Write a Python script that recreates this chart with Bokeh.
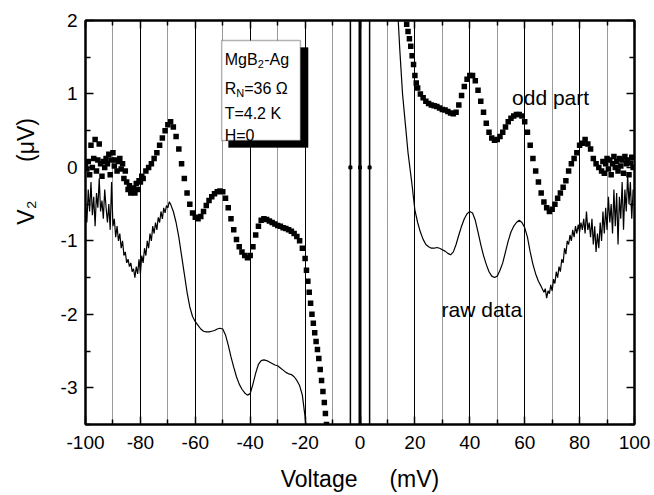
import math
from bokeh.plotting import figure
from bokeh.models import Range1d, LinearAxis, FixedTicker, Grid, Label, BoxAnnotation, ColumnDataSource
from bokeh.embed import file_html
from bokeh.resources import INLINE

# ---------------- data ----------------
odd_left_x = [-100, -99.5, -99, -98.5, -98, -97.5, -97, -96.5, -96, -95.5, -95, -94.5, -94, -93.5, -93,
              -92.5, -92, -91.5, -91, -90.5, -90, -89.5, -89, -88.5, -88, -87.5, -87, -86.5, -86, -85.5,
              -85, -84.5, -84, -83.5, -83, -82.5, -82, -81.5, -81, -80.5, -80, -79.5, -79, -78, -77, -76,
              -75, -74, -73, -72, -71, -70, -69, -68, -67, -66, -65, -64, -63, -62, -61, -60, -59, -58,
              -57, -56, -55, -54, -53, -52, -51, -50, -49, -48, -47, -46, -45, -44, -43, -42, -41, -40,
              -39, -38, -37, -36, -35, -34, -33, -32, -31, -30, -29, -28, -27, -26, -25, -24, -23, -22,
              -21, -20, -19.5, -19, -18.5, -18, -17.5, -17, -16.5, -16, -15.5, -15, -14.5, -14, -13.5,
              -13, -12.6, -12.2]
odd_left_y = [0.05, -0.02, 0.08, -0.1, 0.3, 0.0, 0.12, 0.38, -0.05, 0.1, 0.32, 0.05, -0.12, 0.08, 0.0,
              0.12, 0.05, 0.18, -0.1, 0.1, 0.2, 0.02, 0.1, -0.05, 0.08, 0.12, -0.02, 0.05, -0.15, -0.05,
              -0.2, -0.3, -0.25, -0.35, -0.3, -0.28, -0.35, -0.22, -0.3, -0.18, -0.2, -0.12, -0.15, -0.05,
              0.0, 0.05, 0.12, 0.2, 0.3, 0.4, 0.5, 0.58, 0.62, 0.55, 0.42, 0.25, 0.05, -0.15, -0.35, -0.5,
              -0.62, -0.68, -0.7, -0.67, -0.6, -0.52, -0.45, -0.4, -0.36, -0.33, -0.32, -0.33, -0.42,
              -0.55, -0.7, -0.85, -0.98, -1.08, -1.15, -1.2, -1.23, -1.2, -1.08, -0.92, -0.8, -0.72, -0.7,
              -0.71, -0.73, -0.75, -0.77, -0.79, -0.8, -0.82, -0.83, -0.85, -0.87, -0.9, -0.94, -1.0,
              -1.1, -1.24, -1.4, -1.55, -1.7, -1.85, -2.0, -2.12, -2.25, -2.37, -2.48, -2.6, -2.75, -2.9,
              -3.05, -3.2, -3.35, -3.5]

odd_right_x = [16.5, 17, 17.5, 18, 18.5, 19, 19.5, 20, 20.5, 21, 22, 23, 24, 25, 26, 27, 28, 29, 30, 31,
               32, 33, 34, 35, 36, 37, 38, 39, 40, 41, 42, 43, 44, 45, 46, 47, 48, 49, 50, 51, 52, 53, 54,
               55, 56, 57, 58, 59, 60, 61, 62, 63, 64, 65, 66, 67, 68, 69, 70, 71, 72, 73, 74, 75, 76, 77,
               78, 79, 80, 81, 82, 83, 84, 85, 86, 87, 88, 88.5, 89, 89.5, 90, 90.5, 91, 91.5, 92, 92.5,
               93, 93.5, 94, 94.5, 95, 95.5, 96, 96.5, 97, 97.5, 98, 98.5, 99, 99.5]
odd_right_y = [2.1, 1.95, 1.85, 1.75, 1.65, 1.52, 1.4, 1.25, 1.15, 1.08, 1.0, 0.95, 0.9, 0.87, 0.85, 0.84,
               0.83, 0.81, 0.79, 0.78, 0.76, 0.74, 0.73, 0.75, 0.85, 0.98, 1.1, 1.2, 1.25, 1.25, 1.18,
               1.05, 0.9, 0.75, 0.6, 0.48, 0.4, 0.37, 0.38, 0.42, 0.48, 0.55, 0.62, 0.67, 0.7, 0.72, 0.72,
               0.7, 0.62, 0.48, 0.3, 0.12, -0.05, -0.2, -0.35, -0.47, -0.55, -0.6, -0.57, -0.5, -0.42,
               -0.35, -0.27, -0.18, -0.05, 0.05, 0.12, 0.2, 0.3, 0.33, 0.38, 0.32, 0.25, 0.12, 0.05, 0.0,
               -0.05, 0.08, -0.08, 0.05, 0.12, -0.02, 0.1, -0.1, 0.05, 0.15, 0.0, 0.08, -0.05, 0.12, 0.02,
               0.1, -0.08, 0.15, 0.05, 0.1, -0.1, 0.06, 0.14, 0.0]

raw_left_x = [-100, -99.5, -99, -98.5, -98, -97.5, -97, -96.5, -96, -95.5, -95, -94.5, -94, -93.5, -93,
              -92.5, -92, -91.5, -91, -90.5, -90, -89.5, -89, -88.5, -88, -87.5, -87, -86.5, -86, -85.5,
              -85, -84.5, -84, -83.5, -83, -82.5, -82, -81.5, -81, -80.5, -80, -79.5, -79, -78.5, -78,
              -77.5, -77, -76.5, -76, -75.5, -75, -74.5, -74, -73.5, -73, -72.5, -72, -71.5, -71, -70.5,
              -70, -69.5, -69, -68, -67, -66, -65, -64, -63, -62, -61, -60, -59, -58, -57, -56, -55, -54,
              -53, -52, -51, -50, -49, -48, -47, -46, -45, -44, -43, -42, -41, -40, -39, -38, -37, -36,
              -35, -34, -33, -32, -31, -30, -29, -28, -27, -26, -25, -24, -23, -22, -21, -20.5, -20, -19.6]
raw_left_y = [-0.5, -0.75, -0.3, -0.6, -0.2, -0.65, -0.4, -0.8, -0.35, -0.55, -0.15, -0.6, -0.45, -0.7,
              -0.3, -0.55, -0.75, -0.5, -0.85, -0.2, -0.8, -0.7, -0.95, -0.8, -1.0, -0.9, -1.1, -1.0, -1.2,
              -1.15, -1.3, -1.25, -1.35, -1.3, -1.42, -1.38, -1.5, -1.35, -1.45, -1.25, -1.45, -1.2, -1.3,
              -1.1, -1.2, -1.0, -1.1, -0.9, -1.0, -0.8, -0.9, -0.75, -0.85, -0.68, -0.75, -0.6, -0.7,
              -0.55, -0.62, -0.52, -0.55, -0.47, -0.5, -0.6, -0.75, -0.95, -1.2, -1.45, -1.7, -1.9, -2.03,
              -2.1, -2.15, -2.2, -2.23, -2.24, -2.24, -2.23, -2.22, -2.2, -2.19, -2.2, -2.28, -2.42, -2.58,
              -2.72, -2.85, -2.95, -3.02, -3.07, -3.1, -3.08, -2.95, -2.8, -2.68, -2.63, -2.62, -2.63,
              -2.65, -2.67, -2.69, -2.7, -2.73, -2.76, -2.79, -2.81, -2.82, -2.85, -2.9, -2.97, -3.1,
              -3.25, -3.4, -3.55]

raw_right_x = [13.8, 14, 14.5, 15, 15.5, 16, 16.5, 17, 17.5, 18, 18.5, 19, 19.5, 20, 21, 22, 23, 24, 25,
               26, 27, 28, 29, 30, 31, 32, 33, 34, 35, 36, 37, 38, 39, 40, 41, 42, 43, 44, 45, 46, 47, 48,
               49, 50, 51, 52, 53, 54, 55, 56, 57, 58, 59, 60, 61, 62, 63, 64, 65, 66, 67, 67.5, 68, 68.5,
               69, 69.5, 70, 70.5, 71, 71.5, 72, 72.5, 73, 73.5, 74, 74.5, 75, 75.5, 76, 76.5, 77, 77.5,
               78, 78.5, 79, 79.5, 80, 80.5, 81, 81.5, 82, 82.5, 83, 83.5, 84, 84.5, 85, 85.5, 86, 86.5,
               87, 87.5, 88, 88.5, 89, 89.5, 90, 90.5, 91, 91.5, 92, 92.5, 93, 93.5, 94, 94.5, 95, 95.5,
               96, 96.5, 97, 97.5, 98, 98.5, 99, 99.5]
raw_right_y = [2.05, 1.95, 1.6, 1.3, 1.0, 0.8, 0.6, 0.4, 0.2, 0.05, -0.1, -0.25, -0.42, -0.58, -0.75,
               -0.88, -0.98, -1.05, -1.08, -1.1, -1.1, -1.09, -1.1, -1.12, -1.14, -1.17, -1.19, -1.15,
               -1.05, -0.92, -0.8, -0.7, -0.63, -0.6, -0.62, -0.72, -0.88, -1.05, -1.2, -1.32, -1.42,
               -1.48, -1.5, -1.48, -1.4, -1.3, -1.15, -1.0, -0.88, -0.8, -0.75, -0.72, -0.75, -0.82,
               -0.95, -1.15, -1.32, -1.45, -1.55, -1.62, -1.7, -1.65, -1.78, -1.68, -1.72, -1.6, -1.68,
               -1.52, -1.58, -1.42, -1.5, -1.35, -1.42, -1.25, -1.3, -1.1, -1.18, -1.0, -1.05, -0.92,
               -1.0, -0.85, -0.95, -0.8, -0.9, -0.78, -0.88, -0.75, -0.85, -0.7, -0.9, -0.6, -0.85, -0.75,
               -0.95, -0.7, -1.05, -0.8, -1.15, -0.9, -1.1, -0.75, -1.0, -0.6, -0.9, -0.55, -0.85, -0.4,
               -0.75, -0.5, -0.9, -0.3, -0.8, -0.35, -1.05, -0.4, -0.7, -0.2, -0.85, -0.3, -0.6, -0.1,
               -0.5, -0.2, -0.7, -0.3]

# vertical traces near zero bias and their marker points
zero_x = [-3.5, 0, 3.5]
zero_w = [1.5, 3, 1.5]
zero_mark_y = [0, 0, 0]

x_major = [-100, -80, -60, -40, -20, 0, 20, 40, 60, 80, 100]
x_minor = [-90, -70, -50, -30, -10, 10, 30, 50, 70, 90]
y_major = [-3, -2, -1, 0, 1, 2]
y_minor = [-3.5, -2.5, -1.5, -0.5, 0.5, 1.5]
solid_grid = [-80, -60, -40, -20, 20, 40, 60, 80]
dotted_grid = [-90, -70, -50, -30, -10, 10, 30, 50, 70, 90]

XMIN, XMAX = -100, 100
YMIN, YMAX = -3.5, 2
FONT = "Liberation Sans"
NB = "\u00a0"

# ---------------- figure ----------------
p = figure(width=654, height=495, x_range=Range1d(XMIN, XMAX), y_range=Range1d(YMIN, YMAX),
           output_backend="svg", toolbar_location=None,
           min_border_left=85, min_border_right=20, min_border_top=20, min_border_bottom=71)
p.background_fill_color = "white"
p.border_fill_color = "white"
p.outline_line_color = "black"
p.outline_line_width = 2

p.xgrid.ticker = FixedTicker(ticks=solid_grid)
p.xgrid.grid_line_color = "black"
p.xgrid.grid_line_width = 1
p.ygrid.visible = False
dg = Grid(dimension=0, ticker=FixedTicker(ticks=dotted_grid), grid_line_color="#333333",
          grid_line_dash="1 1", grid_line_width=1)
p.add_layout(dg)


def style_axis(ax, labels=True):
    ax.major_tick_in = 8
    ax.major_tick_out = 0
    ax.minor_tick_in = 5
    ax.minor_tick_out = 0
    ax.axis_line_width = 2
    ax.major_tick_line_width = 1.5
    ax.minor_tick_line_width = 1.5
    ax.major_label_text_font = FONT
    ax.major_label_text_color = "black"
    ax.axis_label_text_font = FONT
    ax.axis_label_text_font_style = "normal"
    ax.axis_label_text_color = "black"
    ax.axis_label_text_font_size = "23px"
    if labels:
        ax.major_label_text_font_size = "19px"
    else:
        ax.major_label_text_font_size = "0px"
        ax.major_label_standoff = 0


p.xaxis.ticker = FixedTicker(ticks=x_major, minor_ticks=x_minor)
p.yaxis.ticker = FixedTicker(ticks=y_major, minor_ticks=y_minor)
style_axis(p.xaxis[0])
style_axis(p.yaxis[0])
p.xaxis.major_label_standoff = 11
p.yaxis.major_label_standoff = 8
p.xaxis.major_label_overrides = {v: str(v) for v in x_major}
p.yaxis.major_label_overrides = {v: str(v) for v in y_major}
p.xaxis.axis_label = "Voltage" + NB * 5 + "(mV)"
p.xaxis.axis_label_standoff = 14
p.yaxis.axis_label = NB * 16 + "V\u2082" + NB * 6 + "(\u03bcV)"
p.yaxis.axis_label_standoff = 19

top_ax = LinearAxis(ticker=FixedTicker(ticks=x_major, minor_ticks=x_minor))
right_ax = LinearAxis(ticker=FixedTicker(ticks=y_major, minor_ticks=y_minor))
style_axis(top_ax, labels=False)
style_axis(right_ax, labels=False)
p.add_layout(top_ax, "above")
p.add_layout(right_ax, "right")

# ---------------- data marks ----------------
zsrc = ColumnDataSource(dict(x=zero_x, w=zero_w, y0=[YMIN] * len(zero_x), y1=[YMAX] * len(zero_x),
                             ym=zero_mark_y))
p.segment(x0="x", y0="y0", x1="x", y1="y1", line_width="w", line_color="black", source=zsrc)
p.scatter(x="x", y="ym", marker="square", size=3, color="black", source=zsrc)

p.line(raw_left_x, raw_left_y, line_color="black", line_width=1.2)
p.line(raw_right_x, raw_right_y, line_color="black", line_width=1.2)
p.scatter(odd_left_x, odd_left_y, marker="square", size=5.5, color="black", line_width=0)
p.scatter(odd_right_x, odd_right_y, marker="square", size=5.5, color="black", line_width=0)

# ---------------- info box ----------------
p.add_layout(BoxAnnotation(left=-47.9, right=-18.9, bottom=0.271, top=1.632,
                           fill_color="black", fill_alpha=1, line_color="black"))
p.add_layout(BoxAnnotation(left=-50.4, right=-21.7, bottom=0.366, top=1.728,
                           fill_color="white", fill_alpha=1, line_color="black", line_width=1.5))


def lab(x, y, text, size="16px", xo=0, yo=0):
    p.add_layout(Label(x=x, y=y, text=text, x_offset=xo, y_offset=yo,
                       text_font=FONT, text_font_size=size, text_color="black",
                       text_align="left", text_baseline="alphabetic"))


BX = -50.4
lab(BX, 1.469, "MgB", xo=3)
lab(BX, 1.469, "2", size="11px", xo=36, yo=-4)
lab(BX, 1.469, "-Ag", xo=42.5)
lab(BX, 1.074, "R", xo=3)
lab(BX, 1.074, "N", size="11px", xo=14.6, yo=-4)
lab(BX, 1.074, "=36 \u03a9", xo=22.5)
lab(BX, 0.734, "T=4.2 K", xo=3)
lab(BX, 0.434, "H=0", xo=3)

lab(55.4, 0.952, "odd part", size="21px")
lab(29.7, -1.935, "raw data", size="21px")

open("out.html", "w").write(file_html(p, INLINE))
